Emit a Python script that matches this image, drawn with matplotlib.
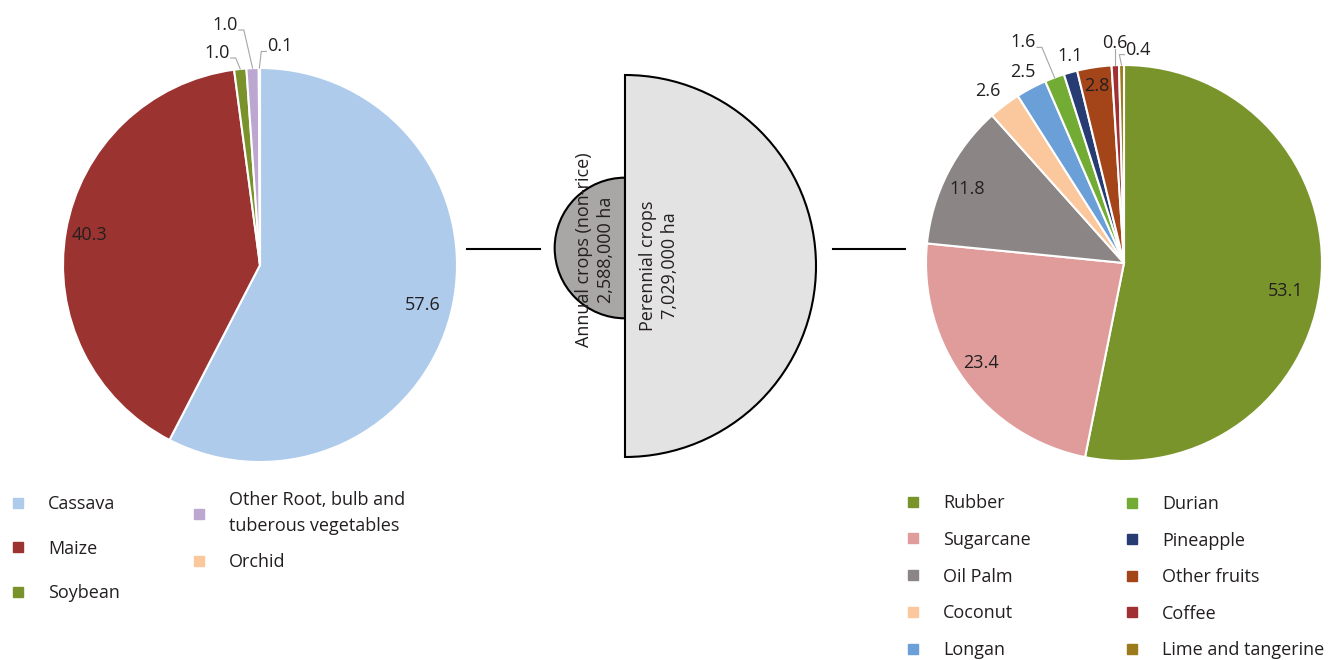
import matplotlib.pyplot as plt
from matplotlib.patches import Wedge
from matplotlib.lines import Line2D
from matplotlib.legend import Legend
import numpy as np

plt.rcParams['font.family'] = ['Open Sans', 'DejaVu Sans']
plt.rcParams['font.size'] = 13
TXT = '#231f20'

# annual crops (non-rice), share in %
annual_crops = ['Cassava', 'Maize', 'Soybean',
                'Other Root, bulb and\ntuberous vegetables', 'Orchid']
annual_share = [57.6, 40.3, 1.0, 1.0, 0.1]
annual_colors = ['#aecbeb', '#9b3330', '#7a922b', '#bca7d0', '#fbc79c']

# perennial crops, share in %
perennial_crops = ['Rubber', 'Sugarcane', 'Oil Palm', 'Coconut', 'Longan',
                   'Durian', 'Pineapple', 'Other fruits', 'Coffee',
                   'Lime and tangerine']
perennial_share = [53.1, 23.4, 11.8, 2.6, 2.5, 1.6, 1.1, 2.8, 0.6, 0.4]
perennial_colors = ['#7a942c', '#df9c9b', '#8b8685', '#fbc79c', '#6a9fd8',
                    '#73ac35', '#263c73', '#a44419', '#a03031', '#9a7a1a']

# totals for the two groups
group_names = ['Annual crops (non-rice)', 'Perennial crops']
group_area = [2588000, 7029000]
group_colors = ['#a9a6a6', '#e4e3e4']

# label placement: (distance in radii, angle shift in deg, leader line)
annual_lab = [(0.85, 0, False), (0.88, 0, False), (1.098, -5.7, True),
              (1.231, -6.1, True), (1.114, 5.4, True)]
perennial_lab = [(0.83, 4.3, False), (0.88, 1.5, False), (0.875, -1.7, False),
                 (1.11, -1.3, False), (1.09, 0, False), (1.225, -4.0, True),
                 (1.08, 1.1, False), (0.905, 0, False), (1.11, 0, True),
                 (1.08, 4.5, True)]

fig = plt.figure(figsize=(13.34, 6.6), dpi=100)
ax = fig.add_axes([0, 0, 1, 1])
renderer = fig.canvas.get_renderer()


def draw_pie(values, colors, center, radius, lab):
    wedges, _ = ax.pie(values, colors=colors, startangle=-90, counterclock=True,
                       center=center, radius=radius,
                       wedgeprops=dict(edgecolor='white', linewidth=1.5))
    ax.set_xlim(0, 1334)
    ax.set_ylim(660, 0)
    cx, cy = center
    for w, v, (d, s, lead) in zip(wedges, values, lab):
        mid = (w.theta1 + w.theta2) / 2
        a = np.radians(mid + s)
        x, y = cx + d * radius * np.cos(a), cy + d * radius * np.sin(a)
        t = ax.text(x, y, f'{v:.1f}', ha='center', va='center', color=TXT)
        if not lead:
            continue
        b = np.radians(mid)
        ex, ey = cx + radius * np.cos(b), cy + radius * np.sin(b)
        bb = t.get_window_extent(renderer)
        (x0, y0), (x1, y1) = ax.transData.inverted().transform(
            [[bb.x0, bb.y0], [bb.x1, bb.y1]])
        bottom = max(y0, y1)
        if abs(ex - x) < (x1 - x0) / 2:
            px, py = [ex, ex], [bottom - 3, ey]
        else:
            sgn = 1 if ex > x else -1
            sx = x1 + 1 if sgn > 0 else x0 - 1
            sy = y + 5
            px, py = [sx, sx + sgn * 5, ex], [sy, sy, ey]
        ax.plot(px, py, color='#a6a6a6', lw=0.8)
    return wedges


def draw_legend(idx, names, colors, x, y, spacing, linespacing=None):
    handles = [Line2D([], [], marker='s', ls='', color=colors[i], markersize=7)
               for i in idx]
    leg = Legend(ax, handles, [names[i] for i in idx], loc='upper left',
                 bbox_to_anchor=(x, y), bbox_transform=ax.transData,
                 frameon=False, borderpad=0, borderaxespad=0,
                 handlelength=1.0, handletextpad=1.2,
                 labelspacing=spacing, labelcolor=TXT)
    if linespacing:
        for t in leg.get_texts():
            t.set_linespacing(linespacing)
    ax.add_artist(leg)


draw_pie(annual_share, annual_colors, (260, 265), 197, annual_lab)
draw_pie(perennial_share, perennial_colors, (1124, 263), 198, perennial_lab)

# half circles, radius proportional to total area
r_big = 191
r_small = r_big * group_area[0] / group_area[1]
ax.add_patch(Wedge((625, 248), r_small, 90, 270, facecolor=group_colors[0],
                   edgecolor='black', lw=1.5))
ax.add_patch(Wedge((625, 266), r_big, -90, 90, facecolor=group_colors[1],
                   edgecolor='black', lw=1.5))
ax.text(595, 250, f'{group_names[0]}\n{group_area[0]:,} ha', rotation=90,
        ha='center', va='center', multialignment='center', color=TXT,
        linespacing=1.35)
ax.text(659, 266, f'{group_names[1]}\n{group_area[1]:,} ha', rotation=90,
        ha='center', va='center', multialignment='center', color=TXT,
        linespacing=1.35)
ax.plot([467, 540], [249, 249], color='black', lw=1.5)
ax.plot([833, 905], [249, 249], color='black', lw=1.5)

draw_legend([0, 1, 2], annual_crops, annual_colors, 8.5, 495, 1.47)
draw_legend([3, 4], annual_crops, annual_colors, 189.5, 491, 1.0, 1.6)
draw_legend([0, 1, 2, 3, 4], perennial_crops, perennial_colors, 903.5, 494, 1.04)
draw_legend([5, 6, 7, 8, 9], perennial_crops, perennial_colors, 1122.5, 495, 1.03)

ax.set_xlim(0, 1334)
ax.set_ylim(660, 0)
ax.set_axis_off()
fig.savefig('out.png', dpi=100)
